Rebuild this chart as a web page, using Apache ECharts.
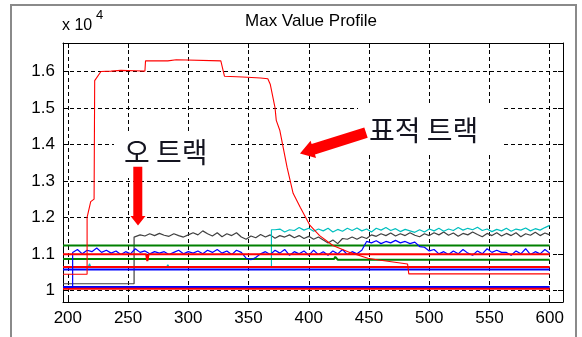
<!DOCTYPE html>
<html>
<head>
<meta charset="utf-8">
<script src="https://cdn.jsdelivr.net/npm/echarts/dist/echarts.min.js"></script>
<style>
  html, body { margin: 0; padding: 0; background: #fff; }
  #chart { width: 582px; height: 337px; }
</style>
</head>
<body>
<div id="chart"></div>
<script>
// ---- data (values in units of 10^4) ----
const xMin = 196, xMax = 611;
const yMin = 0.968, yMax = 1.678;

// target track maximum value
const targetTrack = [
  [196,1.044],[216,1.044],[216,1.200],[219,1.243],[221.8,1.250],[222.3,1.575],[223.5,1.580],
  [227.5,1.600],[236,1.601],[244,1.603],[256,1.602],[264,1.601],[264.5,1.629],[283,1.629],
  [284,1.632],[290,1.632],[291,1.629],[327,1.629],[330,1.587],[345,1.585],[360,1.582],
  [366,1.580],[368,1.565],[372,1.500],[373,1.466],[376,1.438],[382,1.337],[387,1.266],
  [393,1.227],[401,1.178],[409,1.150],[420,1.123],[434,1.104],[449,1.088],[458,1.083],
  [459,1.079],[482,1.072],[483,1.045],[600,1.045]
];

// threshold levels
const greenUpper = [[196,1.123],[600,1.123]];
const greenLower = [[196,1.086],[421,1.086],[422,1.092],[424,1.084],[600,1.084]];
const redUpper   = [[196,1.099],[265,1.099],[266,1.080],[267,1.099],[600,1.099]];
const redMid     = [[196,1.064],[600,1.064]];
const blueMid    = [[196,1.057],[600,1.057]];
const blueLow    = [[196,1.009],[600,1.009]];
const redLow     = [[196,1.004],[600,1.004]];

// false track (grey): flat start, then noisy level
const greyLead = [[196,1.018],[255,1.018],[255,1.146]];
const noiseStep = 4;
const greyStart = 256;
const greyNoise = [
  1.146,1.152,1.149,1.155,1.150,1.156,1.151,1.148,1.155,1.150,1.146,1.152,1.158,1.152,1.163,1.155,
  1.149,1.158,1.147,1.155,1.150,1.158,1.146,1.140,1.149,1.144,1.153,1.146,1.152,1.143,1.150,1.146,
  1.152,1.144,1.150,1.142,1.148,1.140,1.146,1.138,1.130,1.138,1.128,1.142,1.140,1.146,1.140,1.147,
  1.142,1.152,1.148,1.155,1.150,1.157,1.149,1.155,1.150,1.158,1.151,1.147,1.155,1.150,1.158,1.152,
  1.160,1.151,1.157,1.148,1.156,1.152,1.160,1.153,1.147,1.156,1.150,1.158,1.149,1.156,1.150,1.158,
  1.147,1.155,1.151,1.159,1.150,1.157,1.152
];

// cyan track
const cyanLead = [
  [196,1.064],[217,1.064],[218,1.073],[219,1.064],[282,1.064],[283,1.070],[284,1.064],
  [369,1.064],[369,1.166]
];
const cyanStart = 372;
const cyanNoise = [
  1.166,1.168,1.160,1.166,1.164,1.172,1.165,1.170,1.162,1.168,1.163,1.170,1.160,1.167,1.162,1.170,
  1.164,1.171,1.163,1.168,1.160,1.170,1.165,1.172,1.164,1.169,1.161,1.167,1.163,1.159,1.166,1.160,
  1.168,1.163,1.170,1.162,1.168,1.164,1.172,1.165,1.170,1.166,1.173,1.164,1.168,1.161,1.167,1.163,
  1.170,1.162,1.168,1.165,1.171,1.163,1.169,1.165,1.172,1.178
];

// blue track
const blueLead = [[196,1.009],[204,1.009]];
const blueStart = 204;
const blueNoise = [
  1.104,1.112,1.100,1.110,1.106,1.116,1.104,1.110,1.102,1.108,1.098,1.106,1.100,1.114,1.104,1.108,
  1.100,1.106,1.102,1.106,1.098,1.104,1.110,1.100,1.106,1.102,1.108,1.100,1.110,1.104,1.112,1.102,
  1.108,1.098,1.110,1.104,1.088,1.084,1.090,1.100,1.106,1.098,1.110,1.102,1.112,1.096,1.106,1.100,
  1.108,1.096,1.110,1.098,1.106,1.096,1.108,1.100,1.112,1.098,1.106,1.100,1.110,1.134,1.130,1.136,
  1.128,1.134,1.130,1.137,1.130,1.134,1.128,1.132,1.120,1.118,1.108,1.112,1.100,1.106,1.098,1.108,
  1.100,1.112,1.102,1.096,1.108,1.100,1.114,1.104,1.110,1.104,1.104,1.096,1.108,1.100,1.114,1.098,
  1.106,1.100,1.112,1.102
];

// tick label format
const yLabel = v => String(+v.toFixed(1));

// ---- helpers ----
function sampled(start, values) {
  return values.map((v, i) => [start + i * noiseStep, v]);
}
function line(name, data, color, width) {
  return {
    name, type: 'line', data, showSymbol: false, symbol: 'none',
    lineStyle: { color, width }, itemStyle: { color },
    animation: false, silent: true
  };
}

const greyData = greyLead.concat(sampled(greyStart, greyNoise));
const cyanData = cyanLead.concat(sampled(cyanStart, cyanNoise));
const blueData = blueLead.concat(sampled(blueStart, blueNoise));

const RED = '#ff0000', GREEN = '#008000', BLUE = '#0000ff', CYAN = '#00bfbf', GREY = '#404040';
const labelFont = { fontFamily: 'Liberation Sans, Arial, sans-serif', fontSize: 17, color: '#000' };
const grid = { left: 63, right: 19, top: 43, bottom: 35 };

const chart = echarts.init(document.getElementById('chart'), null, { renderer: 'canvas' });

const dashed = { show: true, lineStyle: { color: '#000', width: 1, type: [4, 3] } };
const tickIn = { show: true, inside: true, length: 5, lineStyle: { color: '#000' } };
const frame = { show: true, onZero: false, lineStyle: { color: '#000', width: 1 } };

const option = {
  backgroundColor: '#fff',
  animation: false,
  grid,
  xAxis: [
    { type: 'value', min: xMin, max: xMax, splitNumber: 8, position: 'bottom',
      axisLine: frame, axisTick: tickIn, splitLine: dashed,
      axisLabel: Object.assign({ margin: 8, showMinLabel: false, showMaxLabel: false }, labelFont) },
    { type: 'value', min: xMin, max: xMax, splitNumber: 8, position: 'top',
      axisLine: frame, axisTick: tickIn, splitLine: { show: false }, axisLabel: { show: false } }
  ],
  yAxis: [
    { type: 'value', min: yMin, max: yMax, splitNumber: 5, position: 'left',
      axisLine: frame, axisTick: tickIn, splitLine: dashed,
      axisLabel: Object.assign({ margin: 8, showMinLabel: false, showMaxLabel: false, formatter: yLabel }, labelFont) },
    { type: 'value', min: yMin, max: yMax, splitNumber: 5, position: 'right',
      axisLine: frame, axisTick: tickIn, splitLine: { show: false }, axisLabel: { show: false } }
  ],
  series: [
    line('grey', greyData, GREY, 1.2),
    line('cyan', cyanData, CYAN, 1.2),
    line('greenUpper', greenUpper, GREEN, 2),
    line('greenLower', greenLower, GREEN, 2),
    line('redMid', redMid, RED, 2),
    line('blueMid', blueMid, BLUE, 2),
    line('blueLow', blueLow, BLUE, 2),
    line('redLow', redLow, RED, 2),
    line('blue', blueData, BLUE, 1.2),
    line('redUpper', redUpper, RED, 2),
    line('target', targetTrack, RED, 1.1)
  ],
  graphic: [
    // figure frame
    { type: 'rect', z: 100, shape: { x: 11, y: 5, width: 565, height: 345 },
      style: { fill: 'none', stroke: '#8a8a8a', lineWidth: 2 } },
    // title
    { type: 'text', z: 100, x: 311, y: 21,
      style: { text: 'Max Value Profile', fontFamily: 'Liberation Sans, Arial, sans-serif', fontSize: 17,
               fill: '#000', textAlign: 'center', textVerticalAlign: 'middle' } },
    // exponent
    { type: 'text', z: 100, x: 62, y: 26,
      style: { text: 'x 10', fontFamily: 'Liberation Sans, Arial, sans-serif', fontSize: 16,
               fill: '#000', textAlign: 'left', textVerticalAlign: 'middle' } },
    { type: 'text', z: 100, x: 96, y: 15.5,
      style: { text: '4', fontFamily: 'Liberation Sans, Arial, sans-serif', fontSize: 13,
               fill: '#000', textAlign: 'left', textVerticalAlign: 'middle' } },
    // annotation: false track
    { type: 'rect', z: 50, shape: { x: 114, y: 133, width: 117, height: 45 }, style: { fill: '#fff' } },
    { type: 'text', z: 60, x: 124, y: 152,
      style: { text: '오 트랙', fontFamily: 'Noto Sans CJK KR', fontSize: 28,
               fill: '#141420', textAlign: 'left', textVerticalAlign: 'middle' } },
    { type: 'polygon', z: 60,
      shape: { points: [[133.3,166.7],[142.3,166.7],[142.3,216],[145.5,216],[138,225.5],[130.5,216],[133.3,216]] },
      style: { fill: '#ff0000' } },
    // annotation: target track
    { type: 'rect', z: 50, shape: { x: 358, y: 103, width: 144, height: 50 }, style: { fill: '#fff' } },
    { type: 'rect', z: 50, shape: { x: 299, y: 111, width: 71, height: 44 }, style: { fill: '#fff' } },
    { type: 'text', z: 60, x: 369, y: 130.5,
      style: { text: '표적 트랙', fontFamily: 'Noto Sans CJK KR', fontSize: 28,
               fill: '#141420', textAlign: 'left', textVerticalAlign: 'middle' } },
    { type: 'polygon', z: 60,
      shape: { points: [[364.3,127.4],[367.7,137.8],[315.0,154.5],[316.0,157.9],[300,153.5],[310.6,140.7],[311.6,144.1]] },
      style: { fill: '#ff0000' } }
  ]
};

chart.setOption(option);
</script>
</body>
</html>
